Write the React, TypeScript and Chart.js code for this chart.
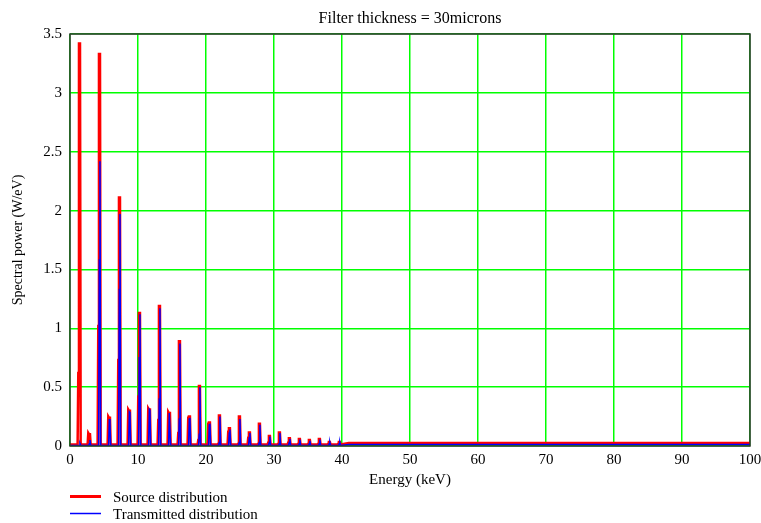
import React, { useEffect, useRef } from "react";
import { Chart, registerables } from "chart.js";

Chart.register(...registerables);

// ---- data ----
const chartTitle = "Filter thickness = 30microns";
const xAxisTitle = "Energy (keV)";
const yAxisTitle = "Spectral power (W/eV)";
const sourceLabel = "Source distribution";
const transmittedLabel = "Transmitted distribution";

const peakEnergies = [
  1.47, 2.94, 4.41, 5.88, 7.35, 8.82, 10.29, 11.76, 13.23, 14.7, 16.17, 17.64,
  19.11, 20.58, 22.05, 23.52, 24.99, 26.46, 27.93, 29.4, 30.87, 32.34, 33.81,
  35.28, 36.75, 38.22, 39.69,
];
const sourceShoulder = [
  0.62, 0.11, 1.02, 0.25, 0.73, 0.31, 0.42, 0.32, 0.22, 0.29, 0.11, 0.24, 0.05,
  0.19, 0.02, 0.12, 0.02, 0.07, 0.02, 0.03, 0.02, 0.03, 0.02, 0.02, 0.02, 0.02,
  0.02,
];
const sourcePeak = [
  3.42, 0.1, 3.33, 0.24, 2.11, 0.3, 1.13, 0.31, 1.19, 0.28, 0.89, 0.25, 0.51,
  0.2, 0.26, 0.15, 0.25, 0.115, 0.19, 0.085, 0.115, 0.065, 0.06, 0.05, 0.06,
  0.035, 0.035,
];
const transmittedShoulder = [
  0.0, 0.02, 1.58, 0.23, 1.33, 0.29, 0.75, 0.31, 0.4, 0.28, 0.23, 0.23, 0.1,
  0.18, 0.03, 0.11, 0.03, 0.07, 0.03, 0.03, 0.02, 0.03, 0.02, 0.02, 0.02, 0.02,
  0.02,
];
const transmittedPeak = [
  0.02, 0.05, 2.42, 0.19, 1.97, 0.28, 1.12, 0.3, 1.17, 0.28, 0.87, 0.24, 0.5,
  0.19, 0.25, 0.14, 0.23, 0.11, 0.18, 0.08, 0.11, 0.06, 0.055, 0.045, 0.055,
  0.03, 0.03,
];
const sourceBaseline = 0.012;
const transmittedBaseline = 0.004;
const tailEnergies = [41, 100];
const sourceTail = [0.025, 0.025];
const transmittedTail = [0.013, 0.013];

const xTickValues = [0, 10, 20, 30, 40, 50, 60, 70, 80, 90, 100];
const yTickValues = [0, 0.5, 1, 1.5, 2, 2.5, 3, 3.5];

// ---- styles ----
const FONT = '"Liberation Serif", "Times New Roman", serif';
const RED = "#ff0000";
const BLUE = "#0000ff";
const GRID = "#00ff00";

function buildSource() {
  const pts: { x: number; y: number }[] = [{ x: 0, y: sourceBaseline }];
  peakEnergies.forEach((e, i) => {
    pts.push({ x: e - 0.35, y: sourceBaseline });
    pts.push({ x: e - 0.25, y: sourceShoulder[i] });
    pts.push({ x: e - 0.15, y: sourcePeak[i] });
    pts.push({ x: e, y: sourcePeak[i] });
    pts.push({ x: e + 0.1, y: sourceBaseline });
  });
  tailEnergies.forEach((e, i) => pts.push({ x: e, y: sourceTail[i] }));
  return pts;
}

function buildTransmitted() {
  const pts: { x: number; y: number }[] = [{ x: 0, y: transmittedBaseline }];
  peakEnergies.forEach((e, i) => {
    pts.push({ x: e - 0.2, y: transmittedBaseline });
    pts.push({ x: e - 0.1, y: transmittedShoulder[i] });
    pts.push({ x: e, y: transmittedPeak[i] });
    pts.push({ x: e + 0.1, y: transmittedBaseline });
  });
  tailEnergies.forEach((e, i) => pts.push({ x: e, y: transmittedTail[i] }));
  return pts;
}

const decorPlugin = {
  id: "decor",
  afterDraw(chart: any) {
    const { ctx, chartArea } = chart;
    const { left, right, top, bottom } = chartArea;
    ctx.save();
    // frame
    ctx.strokeStyle = "#333333";
    ctx.lineWidth = 1.5;
    ctx.strokeRect(left, top, right - left, bottom - top);
    // title
    ctx.fillStyle = "#000";
    ctx.font = `16px ${FONT}`;
    ctx.textAlign = "center";
    ctx.textBaseline = "middle";
    ctx.fillText(chartTitle, (left + right) / 2, 19);
    // legend
    const items = chart.data.datasets.map((d: any) => ({
      label: d.label,
      color: d.borderColor,
      width: d.legendWidth,
    }));
    ctx.font = `15px ${FONT}`;
    ctx.textAlign = "left";
    items.forEach((it: any, i: number) => {
      const y = 496.5 + i * 17;
      ctx.strokeStyle = it.color;
      ctx.lineWidth = it.width;
      ctx.beginPath();
      ctx.moveTo(70, y);
      ctx.lineTo(101, y);
      ctx.stroke();
      ctx.fillStyle = "#000";
      ctx.fillText(it.label, 113, y + 2);
    });
    ctx.restore();
  },
};

export default function App() {
  const ref = useRef<HTMLCanvasElement | null>(null);

  useEffect(() => {
    if (!ref.current) return;
    const chart = new Chart(ref.current, {
      type: "line",
      data: {
        datasets: [
          {
            label: sourceLabel,
            data: buildSource(),
            borderColor: RED,
            borderWidth: 2.5,
            pointRadius: 0,
            tension: 0,
            fill: false,
            order: 2,
            legendWidth: 3,
          } as any,
          {
            label: transmittedLabel,
            data: buildTransmitted(),
            borderColor: BLUE,
            borderWidth: 1.5,
            pointRadius: 0,
            tension: 0,
            fill: false,
            order: 1,
            legendWidth: 1.5,
          } as any,
        ],
      },
      options: {
        animation: false,
        responsive: false,
        devicePixelRatio: 1,
        parsing: false as any,
        normalized: true,
        layout: { padding: { top: 34, right: 11, left: 0, bottom: 0 } },
        plugins: {
          legend: { display: false },
          title: { display: false },
          tooltip: { enabled: false },
        },
        scales: {
          x: {
            type: "linear",
            min: 0,
            max: 100,
            afterBuildTicks: (s: any) => {
              s.ticks = xTickValues.map((v) => ({ value: v }));
            },
            afterFit: (s: any) => {
              s.height = 77;
              s.paddingLeft = 0;
              s.paddingRight = 0;
            },
            grid: { color: GRID, lineWidth: 1.5, drawTicks: false },
            border: { display: false },
            ticks: {
              color: "#000",
              font: { family: FONT, size: 15 },
              padding: 5,
              maxRotation: 0,
              autoSkip: false,
              callback: (v: any) => String(v),
            },
            title: {
              display: true,
              text: xAxisTitle,
              color: "#000",
              font: { family: FONT, size: 15 },
              padding: { top: 0, bottom: 34 },
            },
          },
          y: {
            type: "linear",
            min: 0,
            max: 3.5,
            afterBuildTicks: (s: any) => {
              s.ticks = yTickValues.map((v) => ({ value: v }));
            },
            afterFit: (s: any) => {
              s.width = 70;
              s.paddingTop = 0;
              s.paddingBottom = 0;
            },
            grid: { color: GRID, lineWidth: 1.5, drawTicks: false },
            border: { display: false },
            ticks: {
              color: "#000",
              font: { family: FONT, size: 15 },
              padding: 8,
              autoSkip: false,
              callback: (v: any) => String(v),
            },
            title: {
              display: true,
              text: yAxisTitle,
              color: "#000",
              font: { family: FONT, size: 14 },
              padding: { top: 10, bottom: 0 },
            },
          },
        },
      },
      plugins: [decorPlugin],
    });
    return () => chart.destroy();
  }, []);

  return (
    <div style={{ position: "absolute", left: 0, top: 0, width: 761, height: 523, background: "#fff" }}>
      <canvas ref={ref} width={761} height={523} style={{ display: "block" }} />
    </div>
  );
}
